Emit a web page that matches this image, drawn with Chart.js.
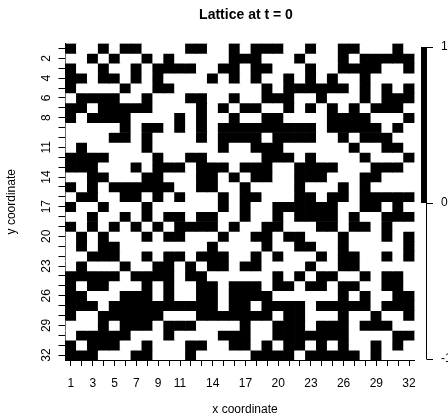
<!DOCTYPE html>
<html>
<head>
<meta charset="utf-8">
<script src="https://cdn.jsdelivr.net/npm/chart.js@4.4.0/dist/chart.umd.min.js"></script>
<style>
  html, body { margin: 0; padding: 0; background: #fff; }
</style>
</head>
<body>
<canvas id="latticeChart" width="448" height="420"></canvas>
<script>
const xCategories = ['1','2','3','4','5','6','7','8','9','10','11','12','13','14','15','16',
                     '17','18','19','20','21','22','23','24','25','26','27','28','29','30','31','32'];
const rowNumbers = [1,2,3,4,5,6,7,8,9,10,11,12,13,14,15,16,17,18,19,20,21,22,23,24,25,26,27,28,29,30,31,32];
const xTickLabels = [1,3,5,7,9,11,14,17,20,23,26,29,32];
const yTickLabels = [2,4,6,8,11,14,17,20,23,26,29,32];

// one string per row (row 1 at top), '1' = +1 (black), '0' = -1 (white)
const latticeRows = [
    '10010110000110010111001001100010',
    '00101001010000011100010001011111',
    '10010010111100110110001001111001',
    '11011010100001010100101010010000',
    '10000100110000000010111111010101',
    '01111001000110010011100100010111',
    '11011111000010101100101010101110',
    '10111100001010010011000011110001',
    '00000101101010111111111011111010',
    '00001101000010111101111001011100',
    '01000001000000100111000000100110',
    '11110000100110000011101000010001',
    '11100010111011101110011110001110',
    '00110001100011010110011100011000',
    '10101111110011001000010001010000',
    '01100110101000101100011011011111',
    '10010001000000101001111110011010',
    '00100101011011001001011110100111',
    '10101010101111010011000110110100',
    '01010001011000100110110001000101',
    '01011000000001000010011001000001',
    '00111001011011100101000101100101',
    '01000100110101101100001001100000',
    '11111011110110000001010110010110',
    '10110001010011011101101101100110',
    '11000111010011011110000001010011',
    '11101111111111011011110111110111',
    '10011111100011111110110001001001',
    '00010111011100001001110111011100',
    '01111100010000111001111111000011',
    '10111001000110011010110101001010',
    '11100011000100000111101111101000'
];

const colorbarTicks = [1, 0, -1];
const colorbarLabels = ['1', '0', '-1'];

const fontFamily = '"Liberation Sans", Arial, sans-serif';

const cellValues = latticeRows.map(r => Array.from(r, c => (c === '1' ? 1 : -1)));

const datasets = cellValues.map((row, i) => ({
    label: 'y = ' + rowNumbers[i],
    data: row.map(() => 1),
    backgroundColor: row.map(v => (v > 0 ? '#000000' : '#ffffff')),
    borderWidth: 0,
    barPercentage: 1,
    categoryPercentage: 1
}));

const decorPlugin = {
    id: 'latticeDecor',
    afterDraw(chart) {
        const ctx = chart.ctx;
        const area = chart.chartArea;
        ctx.save();
        ctx.fillStyle = '#000';
        ctx.textAlign = 'center';
        ctx.textBaseline = 'middle';

        ctx.font = 'bold 14px ' + fontFamily;
        ctx.fillText('Lattice at t = 0', 246, 15);

        ctx.font = '12px ' + fontFamily;
        ctx.fillText('x coordinate', 245, 410);

        ctx.save();
        ctx.translate(12, (area.top + area.bottom) / 2);
        ctx.rotate(-Math.PI / 2);
        ctx.fillText('y coordinate', 0, 0);
        ctx.restore();

        // colour key on the right
        const cbTop = 47, cbBottom = 359, cbLeft = 421, cbRight = 426.5;
        const yOf = v => cbTop + (1 - v) / 2 * (cbBottom - cbTop);
        ctx.fillRect(cbLeft, yOf(1), cbRight - cbLeft, yOf(0) - yOf(1));
        ctx.strokeStyle = '#000';
        ctx.lineWidth = 1;
        ctx.beginPath();
        ctx.moveTo(cbRight, cbTop);
        ctx.lineTo(cbRight, cbBottom);
        colorbarTicks.forEach(v => {
            ctx.moveTo(cbRight, Math.round(yOf(v)) + 0.5);
            ctx.lineTo(cbRight + 6.5, Math.round(yOf(v)) + 0.5);
        });
        ctx.stroke();
        ctx.textAlign = 'left';
        colorbarTicks.forEach((v, i) => {
            ctx.fillText(colorbarLabels[i], 441, yOf(v));
        });
        ctx.restore();
    }
};

new Chart(document.getElementById('latticeChart'), {
    type: 'bar',
    data: {
        labels: xCategories,
        datasets: datasets
    },
    options: {
        responsive: false,
        animation: false,
        devicePixelRatio: 1,
        layout: { padding: { top: 43.5, right: 33.5, left: 0, bottom: 0 } },
        plugins: {
            legend: { display: false },
            tooltip: { enabled: false },
            title: { display: false }
        },
        scales: {
            x: {
                stacked: true,
                offset: true,
                grid: { drawOnChartArea: false, offset: false, tickLength: 6, color: '#000' },
                border: { display: true, color: '#000' },
                ticks: {
                    autoSkip: false,
                    maxRotation: 0,
                    padding: 10,
                    color: '#000',
                    font: { family: fontFamily, size: 12 },
                    callback: (value, index) => xTickLabels.includes(index + 1) ? xCategories[index] : ''
                },
                afterFit: scale => { scale.height = 60; }
            },
            y: {
                type: 'linear',
                stacked: true,
                reverse: true,
                min: 0,
                max: 32,
                afterBuildTicks: scale => {
                    scale.ticks = rowNumbers.map(r => ({ value: r - 0.5 }));
                },
                grid: { drawOnChartArea: false, tickLength: 7, color: '#000' },
                border: { display: true, color: '#000' },
                ticks: {
                    autoSkip: false,
                    minRotation: 90,
                    maxRotation: 90,
                    crossAlign: 'center',
                    padding: 5,
                    color: '#000',
                    font: { family: fontFamily, size: 12 },
                    callback: value => {
                        const r = Math.round(value + 0.5);
                        return yTickLabels.includes(r) ? String(r) : '';
                    }
                },
                afterFit: scale => { scale.width = 65.5; }
            }
        }
    },
    plugins: [decorPlugin]
});
</script>
</body>
</html>
